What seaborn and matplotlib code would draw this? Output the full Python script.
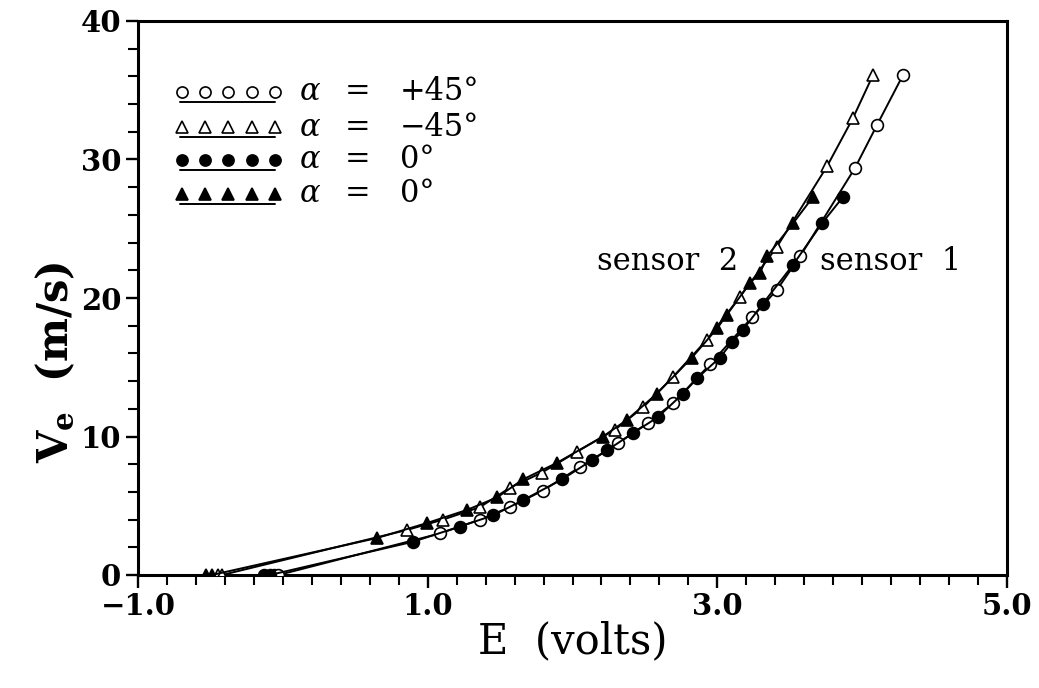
import matplotlib
matplotlib.use("Agg")
import matplotlib.pyplot as plt
from matplotlib.ticker import MultipleLocator, FixedLocator
import numpy as np
import pandas as pd
import seaborn as sns

# Hot-wire calibration: effective velocity Ve against bridge voltage E

# sensor 1, alpha = +45 deg (open circles)
e_s1_p45 = [-0.06, -0.03, 1.085, 1.361, 1.568, 1.796, 2.052, 2.314, 2.521, 2.694,
            2.949, 3.239, 3.412, 3.571, 3.951, 4.103, 4.282]
v_s1_p45 = [0.0, 0.0, 3.0, 4.0, 4.9, 6.1, 7.8, 9.5, 11.0, 12.4,
            15.2, 18.6, 20.6, 23.0, 29.4, 32.5, 36.1]

# sensor 1, alpha = 0 deg (filled circles)
e_s1_0 = [-0.13, -0.09, 0.899, 1.223, 1.451, 1.658, 1.928, 2.135, 2.238, 2.418,
          2.590, 2.763, 2.860, 3.018, 3.101, 3.177, 3.315, 3.523, 3.723, 3.868]
v_s1_0 = [0.0, 0.0, 2.4, 3.5, 4.3, 5.4, 6.9, 8.3, 9.0, 10.25,
          11.4, 13.1, 14.2, 15.7, 16.8, 17.7, 19.6, 22.4, 25.4, 27.3]

# sensor 2, alpha = -45 deg (open triangles)
e_s2_m45 = [-0.45, -0.42, 0.857, 1.106, 1.361, 1.568, 1.789, 2.031, 2.294, 2.487,
            2.694, 2.929, 3.157, 3.412, 3.757, 3.937, 4.075]
v_s2_m45 = [0.0, 0.0, 3.25, 4.0, 4.9, 6.3, 7.4, 8.9, 10.5, 12.1,
            14.3, 17.0, 20.1, 23.7, 29.5, 33.0, 36.1]

# sensor 2, alpha = 0 deg (filled triangles)
e_s2_0 = [-0.53, -0.49, 0.650, 0.995, 1.272, 1.479, 1.658, 1.893, 2.211, 2.376,
          2.583, 2.825, 2.998, 3.067, 3.226, 3.295, 3.343, 3.523, 3.661]
v_s2_0 = [0.0, 0.0, 2.67, 3.75, 4.7, 5.6, 6.9, 8.1, 10.0, 11.2,
          13.1, 15.7, 17.8, 18.8, 21.1, 21.8, 23.0, 25.4, 27.3]

legend_values = ["+45°", "\u221245°", "0°", "0°"]
x_major = [-1.0, 1.0, 3.0, 5.0]
x_major_labels = ["\u22121.0", "1.0", "3.0", "5.0"]
y_major = [0, 10, 20, 30, 40]

sns.set_theme(style="white")
plt.rcParams["font.family"] = ["DejaVu Serif", "DejaVu Sans"]
plt.rcParams["mathtext.fontset"] = "dejavuserif"

fig = plt.figure(figsize=(10.39, 6.88), dpi=100)
ax = fig.add_axes([138 / 1039, 1 - 575 / 688, 869 / 1039, 554 / 688])

series = [
    (e_s1_p45, v_s1_p45, "o", "white", 8.5),
    (e_s2_m45, v_s2_m45, "^", "white", 9.0),
    (e_s1_0, v_s1_0, "o", "black", 8.5),
    (e_s2_0, v_s2_0, "^", "black", 9.0),
]

for e, v, mk, face, ms in series:
    df = pd.DataFrame({"E": e, "V": v})
    sns.lineplot(data=df, x="E", y="V", ax=ax, estimator=None, sort=False,
                 color="black", linewidth=1.4, marker=mk, markersize=ms,
                 markerfacecolor=face, markeredgecolor="black",
                 markeredgewidth=1.2, zorder=3)

ax.set_xlim(-1.0, 5.0)
ax.set_ylim(0, 40)
ax.xaxis.set_major_locator(FixedLocator(x_major))
ax.set_xticklabels(x_major_labels)
ax.xaxis.set_minor_locator(MultipleLocator(0.2))
ax.yaxis.set_major_locator(FixedLocator(y_major))
ax.yaxis.set_minor_locator(MultipleLocator(2))

for side in ["left", "bottom", "top", "right"]:
    ax.spines[side].set_color("black")
    ax.spines[side].set_linewidth(2.2)

ax.tick_params(axis="both", which="major", direction="out", length=9, width=1.7,
               color="black", labelsize=21, pad=3,
               bottom=True, left=True, top=False, right=False)
ax.tick_params(axis="both", which="minor", direction="out", length=7.5, width=1.5,
               color="black", bottom=True, left=True, top=False, right=False)
for lab in ax.get_xticklabels() + ax.get_yticklabels():
    lab.set_fontweight("bold")
    lab.set_color("black")

ax.set_xlabel("E  (volts)", fontsize=30, color="black", labelpad=0)
ax.set_ylabel(r"$\mathbf{V_e}$  (m/s)", fontsize=30, fontweight="bold",
              color="black")
ax.yaxis.set_label_coords(-0.07, 0.385)

ax.text(3.143, 22.6, "sensor  2", fontsize=22, ha="right", va="center", color="black")
ax.text(3.709, 22.6, "sensor  1", fontsize=22, ha="left", va="center", color="black")

# Legend: a row of five markers over a short rule, then the angle
row_y = [92, 127, 160, 194]
mk_x = np.array([182, 205, 228, 252, 275])
for (e, v, mk, face, ms), py, val in zip(series, row_y, legend_values):
    ay = (575 - py) / 554
    ax.plot((mk_x - 138) / 869, [ay] * 5, linestyle="none", marker=mk,
            markersize=ms - 0.5, markerfacecolor=face, markeredgecolor="black",
            markeredgewidth=1.2, transform=ax.transAxes, clip_on=False)
    ly = (575 - (py + 10)) / 554
    ax.plot([(180 - 138) / 869, (275 - 138) / 869], [ly, ly], color="black",
            linewidth=1.4, transform=ax.transAxes)
    ax.text((310 - 138) / 869, ay, "α", fontsize=22, style="italic",
            ha="center", va="center", transform=ax.transAxes, color="black")
    ax.text((358 - 138) / 869, ay, "=", fontsize=22,
            ha="center", va="center", transform=ax.transAxes, color="black")
    ax.text((400 - 138) / 869, ay, val, fontsize=22,
            ha="left", va="center", transform=ax.transAxes, color="black")

fig.savefig("out.png", dpi=100, facecolor="white")
